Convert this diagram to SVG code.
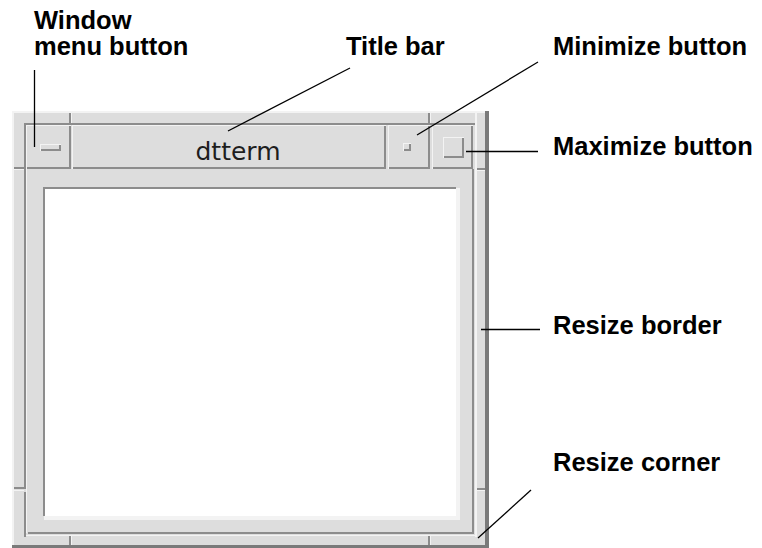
<svg xmlns="http://www.w3.org/2000/svg" width="762" height="548" viewBox="0 0 762 548">
<style>
.bg{fill:#dddddd}
.hi{fill:#f3f3f3}
.sh{fill:#8c8c8c}
.sh2{fill:#7a7a7a}
.wh{fill:#ffffff}
.lbl{font-family:"Liberation Sans",Arial,sans-serif;font-weight:bold;font-size:25.5px;fill:#000}
.ttl{font-family:"DejaVu Sans",sans-serif;font-size:25px;fill:#1e1e1e}
.con line{stroke:#000;stroke-width:1.3;fill:none}
</style>
<rect width="762" height="548" fill="#ffffff"/>
<g id="window" shape-rendering="crispEdges">
  <rect class="bg" x="12" y="111" width="477" height="437"/>
  <rect class="hi" x="12" y="111" width="475" height="2"/>
  <rect class="hi" x="12" y="111" width="2" height="437"/>
  <rect class="sh2" x="485" y="111" width="4" height="437"/>
  <rect class="sh2" x="12" y="545" width="477" height="3"/>
  <rect class="sh" x="24" y="123" width="451" height="2"/>
  <rect class="sh" x="69" y="113" width="2" height="12"/>
  <rect class="hi" x="71" y="113" width="1" height="10"/>
  <rect class="sh" x="428" y="113" width="2" height="12"/>
  <rect class="hi" x="430" y="113" width="1" height="10"/>
  <rect class="sh" x="24" y="123" width="2" height="366"/>
  <rect class="sh" x="14" y="167" width="12" height="2"/>
  <rect class="hi" x="14" y="169" width="10" height="1"/>
  <rect class="sh" x="14" y="487" width="12" height="2"/>
  <rect class="hi" x="14" y="490" width="10" height="1"/>
  <rect class="sh" x="24" y="492" width="2" height="45"/>
  <rect class="hi" x="475" y="113" width="2" height="424"/>
  <rect class="sh" x="477" y="168" width="8" height="2"/>
  <rect class="hi" x="477" y="170" width="8" height="1"/>
  <rect class="sh" x="477" y="488" width="8" height="2"/>
  <rect class="hi" x="477" y="490" width="8" height="1"/>
  <rect class="hi" x="26" y="169" width="1" height="364"/>
  <rect class="sh" x="472" y="169" width="2" height="365"/>
  <rect class="sh" x="28" y="532" width="446" height="2"/>
  <rect class="hi" x="26" y="535" width="451" height="1"/>
  <rect class="sh" x="69" y="536" width="2" height="9"/>
  <rect class="hi" x="71" y="536" width="1" height="9"/>
  <rect class="sh" x="428" y="536" width="2" height="9"/>
  <rect class="hi" x="430" y="536" width="1" height="9"/>
  <rect class="hi" x="44" y="188" width="416" height="332"/>
  <rect class="sh" x="43" y="187" width="413" height="329"/>
  <rect class="wh" x="45" y="189" width="411" height="327"/>
</g>
<g id="menu-button" shape-rendering="crispEdges">
  <rect class="hi" x="26" y="125" width="45" height="44"/>
  <rect class="sh" x="27" y="126" width="44" height="43"/>
  <rect class="bg" x="27" y="126" width="42" height="41"/>
  <rect class="hi" x="40" y="144" width="21" height="7"/>
  <rect class="sh" x="41" y="145" width="20" height="6"/>
  <rect class="bg" x="41" y="145" width="18" height="4"/>
</g>
<g id="title-bar">
  <g shape-rendering="crispEdges">
    <rect class="hi" x="72" y="125" width="314" height="44"/>
    <rect class="sh" x="73" y="126" width="313" height="43"/>
    <rect class="bg" x="73" y="126" width="311" height="41"/>
  </g>
  <text class="ttl" x="238" y="160" text-anchor="middle">dtterm</text>
</g>
<g id="minimize-button" shape-rendering="crispEdges">
  <rect class="hi" x="388" y="125" width="42" height="44"/>
  <rect class="sh" x="389" y="126" width="41" height="43"/>
  <rect class="bg" x="389" y="126" width="39" height="41"/>
  <rect class="hi" x="403" y="143" width="8" height="8"/>
  <rect class="sh" x="404" y="144" width="7" height="7"/>
  <rect class="bg" x="404" y="144" width="5" height="5"/>
</g>
<g id="maximize-button" shape-rendering="crispEdges">
  <rect class="hi" x="432" y="125" width="41" height="44"/>
  <rect class="sh" x="433" y="126" width="40" height="43"/>
  <rect class="bg" x="433" y="126" width="38" height="41"/>
  <rect class="hi" x="443" y="137" width="21" height="21"/>
  <rect class="sh" x="444" y="138" width="20" height="20"/>
  <rect class="bg" x="444" y="138" width="18" height="18"/>
</g>
<g id="label-window-menu">
  <text class="lbl" x="34" y="29">Window</text>
  <text class="lbl" x="34" y="55">menu button</text>
</g>
<g id="label-title-bar"><text class="lbl" x="346" y="55">Title bar</text></g>
<g id="label-minimize"><text class="lbl" x="553" y="55">Minimize button</text></g>
<g id="label-maximize"><text class="lbl" x="553" y="155">Maximize button</text></g>
<g id="label-resize-border"><text class="lbl" x="553" y="334">Resize border</text></g>
<g id="label-resize-corner"><text class="lbl" x="553" y="471">Resize corner</text></g>
<g id="connectors" class="con">
  <line x1="34.5" y1="70" x2="34.5" y2="147"/>
  <line x1="350" y1="68" x2="228" y2="131"/>
  <line x1="538" y1="62" x2="417" y2="135"/>
  <line x1="466" y1="151.5" x2="538" y2="151.5"/>
  <line x1="481" y1="329.5" x2="540" y2="329.5"/>
  <line x1="478" y1="538" x2="531" y2="490"/>
</g>
</svg>
